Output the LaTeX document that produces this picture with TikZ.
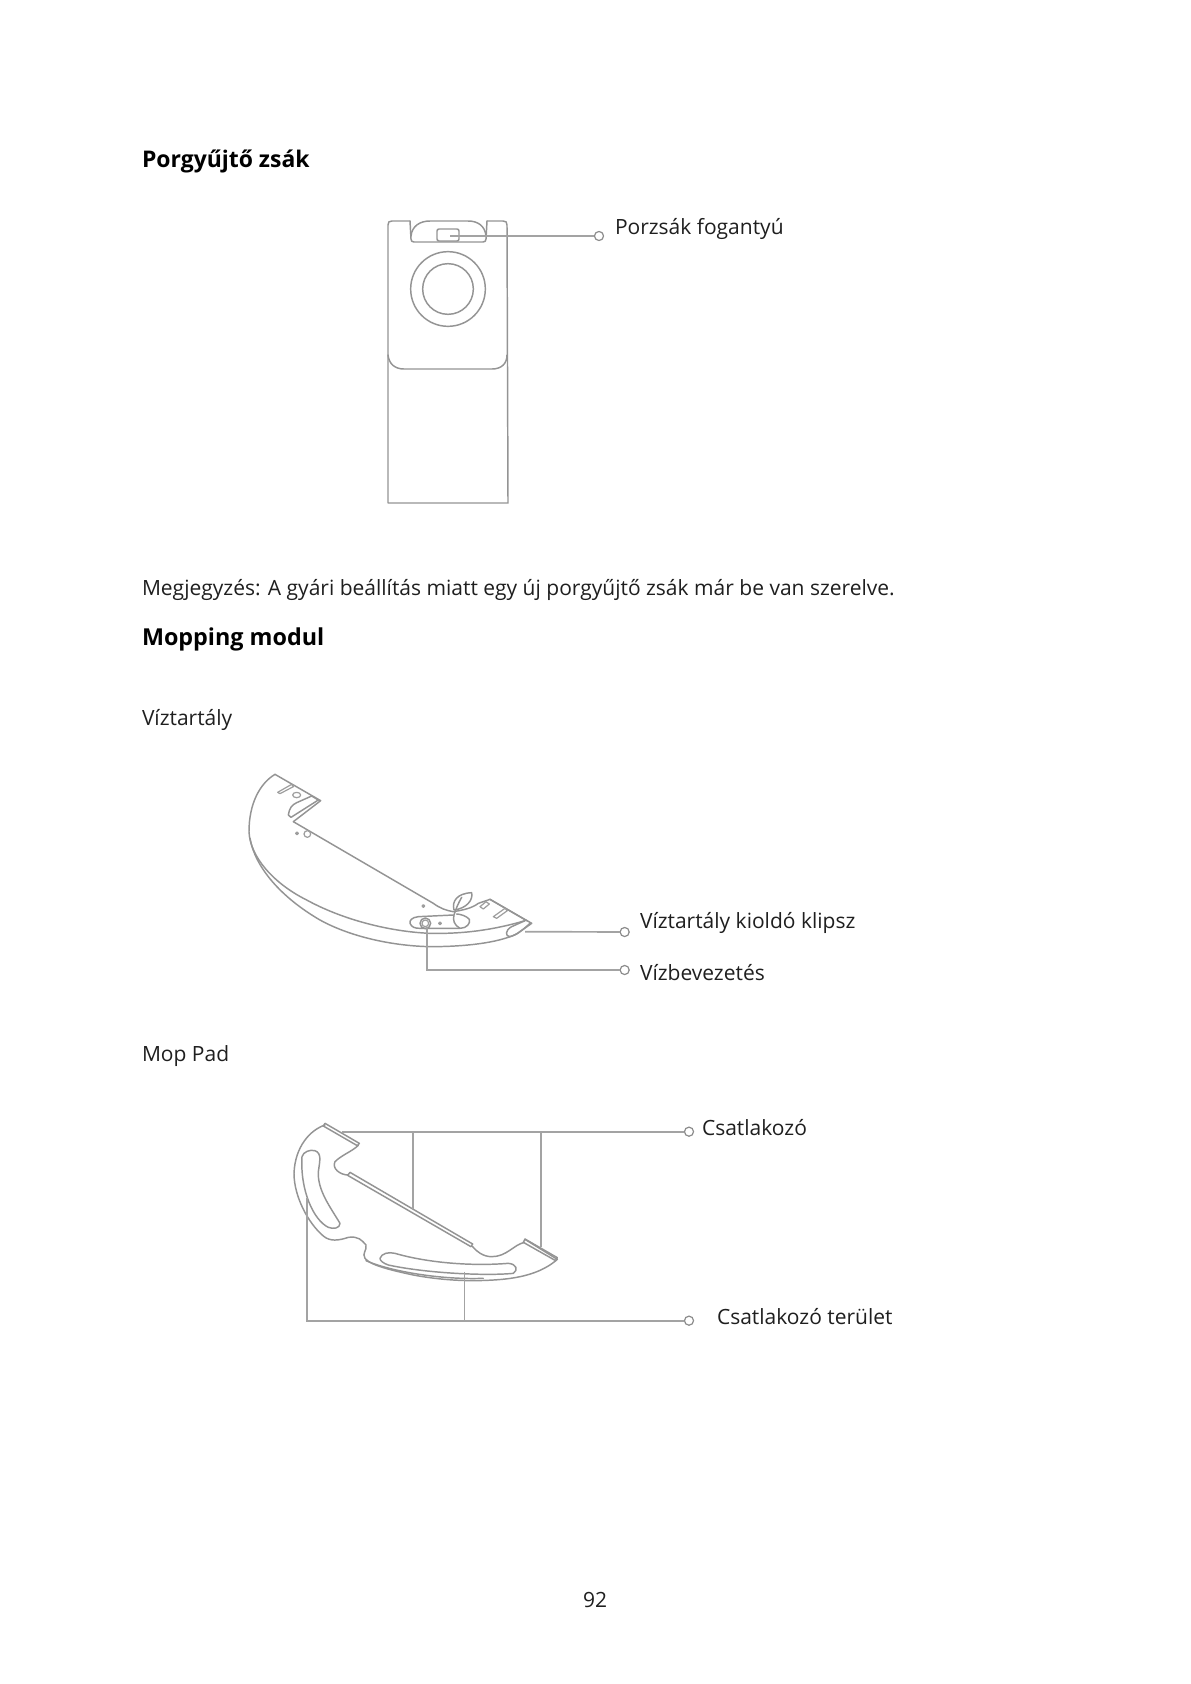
\documentclass[tikz,border=0pt]{standalone}
\usepackage{fontspec}
\setmainfont{Open Sans}
\tikzset{
  txt/.style={anchor=base west,inner sep=0pt,outer sep=0pt,font=\fontsize{15.75pt}{19pt}\selectfont,text=black!88},
  head/.style={txt,font=\fontsize{17.2pt}{21pt}\selectfont\bfseries,text=black},
  art/.style={draw=black!42,line width=1.1pt,line join=round,line cap=round},
  thin art/.style={draw=black!38,line width=0.9pt,line join=round,line cap=round},
  leader/.style={draw=black!36,line width=1.25pt},
  dot/.style={circle,draw=black!45,fill=white,line width=0.9pt,minimum size=6.8pt,inner sep=0pt,outer sep=0pt},
}
\begin{document}
\begin{tikzpicture}[x=0.75pt,y=-0.75pt]
\useasboundingbox (0,0) rectangle (1191,1684);
\fill[white] (0,0) rectangle (1191,1684);
% Text
\node[head] (t1) at (142,167) {Porgyűjtő zsák};
\node[txt] (t2) at (615,234) {Porzsák fogantyú};
\node[txt] (t3) at (142,595) {Megjegyzés: A gyári beállítás miatt egy új porgyűjtő zsák már be van szerelve.};
\node[head,font=\fontsize{17.5pt}{21pt}\selectfont\bfseries] (t4) at (142,645) {Mopping modul};
\node[txt] (t5) at (142,725) {Víztartály};
\node[txt] (t6) at (640,928) {Víztartály kioldó klipsz};
\node[txt] (t7) at (640,980) {Vízbevezetés};
\node[txt] (t8) at (142,1061) {Mop Pad};
\node[txt] (t9) at (702,1135) {Csatlakozó};
\node[txt] (t10) at (717,1324) {Csatlakozó terület};
\node[txt,anchor=base] (t11) at (595,1607) {92};
% Bag
\draw[art] (410,221) -- (392,221) .. controls (389,221) and (388,222) .. (388,225) -- (388,503) -- (508,503) -- (507,225) .. controls (507,222) and (506,221) .. (503,221) -- (487,221);
\draw[art] (388,355) .. controls (389,364) and (395,369) .. (404,369) -- (492,369) .. controls (501,369) and (507,364) .. (507,355);
\draw[art] (410,221) -- (411,239) .. controls (411,241) and (412,242) .. (414,242) -- (483,242) .. controls (485,242) and (486,241) .. (486,239) -- (487,221);
\draw[art] (411,236) .. controls (412,226) and (420,221) .. (430,221) -- (468,221) .. controls (478,221) and (485,226) .. (486,236);
\draw[art,rounded corners=1.5pt] (437,229) rectangle (459,241);
\node[circle,art,minimum size=56pt,inner sep=0pt] (ring) at (448,289) {};
\node[circle,art,minimum size=38pt,inner sep=0pt] (hole) at (448,289) {};
\coordinate (bagh) at (450,236);
\node[dot] (d1) at (599,236) {};
\draw[leader] (bagh) -- (d1);
% Water tank
\begin{scope}[shift={(230,760)},scale=1/3]
\draw[art] (135,43) .. controls (90,70) and (57,130) .. (57,215) .. controls (60,290) and (130,370) .. (230,420) .. controls (340,480) and (480,515) .. (600,520) .. controls (700,522) and (790,510) .. (885,482);
\draw[art] (60,235) .. controls (75,320) and (150,410) .. (270,480) .. controls (370,535) and (500,558) .. (600,560) .. controls (700,560) and (800,550) .. (860,522) -- (905,490);
\draw[art] (135,43) -- (272,122) -- (190,185);
\draw[art] (245,108) -- (265,120) -- (183,172) -- (175,165) .. controls (178,145) and (185,135) .. (200,128) -- (245,108);
\draw[thin art] (143,97) -- (185,73) -- (190,80) -- (150,101) -- cycle;
\draw[thin art] (200,105) ellipse (12 and 8);
\draw[art] (190,185) -- (610,430) .. controls (630,445) and (650,452) .. (670,455) .. controls (700,450) and (725,445) .. (745,430) -- (780,418) -- (905,490) -- (888,480);
\draw[art] (780,418) -- (890,482);
\draw[thin art] (232,222) circle (10);
\draw[thin art,fill=black!35] (201,220) circle (4);
\draw[thin art,fill=black!35] (580,438) circle (4);
\draw[thin art,fill=black!40] (630,490) circle (4);
\draw[art] (670,465) -- (565,470) .. controls (545,472) and (538,482) .. (540,490) .. controls (545,502) and (555,505) .. (570,505) -- (690,505) .. controls (710,505) and (722,490) .. (718,478) .. controls (710,468) and (690,462) .. (680,462);
\draw[art] (586,490) circle (16);
\draw[thin art] (586,490) circle (10);
\draw[art] (672,450) .. controls (665,425) and (680,400) .. (725,398) .. controls (730,420) and (710,445) .. (672,450);
\draw[art] (695,412) .. controls (685,430) and (680,440) .. (672,465) .. controls (668,480) and (672,495) .. (690,505);
\draw[thin art] (750,440) -- (768,425) -- (778,432) -- (760,447) -- cycle;
\draw[thin art] (790,470) -- (825,445) -- (832,452) -- (800,475) -- cycle;
\draw[art] (900,490) .. controls (880,508) and (860,525) .. (840,530) .. controls (825,530) and (825,510) .. (845,500) -- (885,482);
\coordinate (cliph) at (885,515);
\coordinate (inl) at (590,500);
\node[dot] (d2) at (1184,516) {};
\node[dot] (d3) at (1184,630) {};
\end{scope}
\draw[leader] (cliph) -- (d2);
\draw[leader] (inl) |- (d3);
% Mop pad
\begin{scope}[shift={(280,1110)},scale=1/3]
\draw[art] (135,45) .. controls (90,60) and (45,110) .. (42,190) .. controls (42,260) and (85,340) .. (130,378) .. controls (150,395) and (175,392) .. (205,382) .. controls (235,378) and (245,390) .. (258,405) .. controls (262,420) and (245,430) .. (255,445) .. controls (270,465) and (330,480) .. (400,495) .. controls (480,510) and (560,515) .. (640,510) .. controls (730,505) and (790,485) .. (832,448) -- (735,388);
\draw[art] (258,452) .. controls (320,480) and (470,510) .. (610,505);
\draw[art] (135,40) -- (238,100) -- (232,107) -- (130,48) -- cycle;
\draw[art] (235,106) .. controls (215,125) and (185,135) .. (165,155) .. controls (155,175) and (180,195) .. (205,195);
\draw[art] (210,187) -- (578,402) -- (573,410) -- (203,196) -- cycle;
\draw[art] (578,410) .. controls (590,425) and (610,440) .. (635,440) .. controls (680,440) and (700,405) .. (733,397);
\draw[art] (735,387) -- (832,443) -- (827,452) -- (730,397) -- cycle;
\draw[art] (66,140) .. controls (70,125) and (90,118) .. (105,122) .. controls (125,130) and (120,150) .. (115,185) .. controls (112,240) and (150,290) .. (180,340) .. controls (180,355) and (160,358) .. (145,352) .. controls (100,330) and (60,240) .. (66,140);
\draw[art] (300,445) .. controls (305,430) and (325,425) .. (345,430) .. controls (430,455) and (560,470) .. (685,460) .. controls (710,462) and (715,480) .. (700,490) .. controls (620,498) and (440,490) .. (325,465) .. controls (310,460) and (300,452) .. (300,445);
\coordinate (mt) at (185,65);
\coordinate (v1) at (398,298);
\coordinate (v2) at (783,410);
\coordinate (v3) at (80,265);
\coordinate (v4) at (553,485);
\coordinate (j1) at (398,65);
\coordinate (j2) at (783,65);
\coordinate (j3) at (80,632);
\coordinate (j4) at (553,632);
\node[dot] (d4) at (1227,65) {};
\node[dot] (d5) at (1227,632) {};
\end{scope}
\draw[leader] (mt) -- (d4);
\draw[leader] (v1) -- (j1);
\draw[leader] (v2) -- (j2);
\draw[leader] (v3) -- (j3) -- (d5);
\draw[leader] (v4) -- (j4);
\end{tikzpicture}
\end{document}
